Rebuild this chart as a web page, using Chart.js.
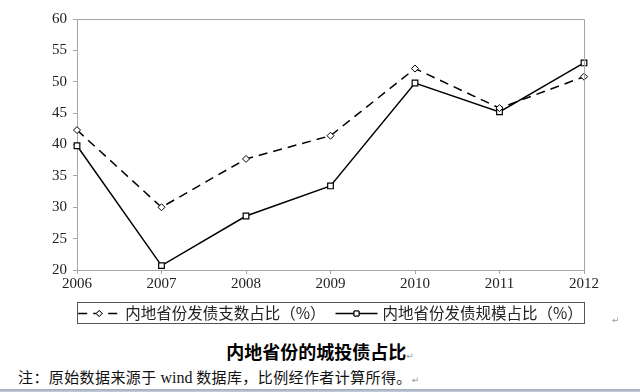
<!DOCTYPE html>
<html>
<head>
<meta charset="utf-8">
<script src="https://cdn.jsdelivr.net/npm/chart.js@4/dist/chart.umd.min.js"></script>
<style>
  html, body { margin: 0; padding: 0; background: #fff; }
  #wrap { position: relative; width: 640px; height: 392px; overflow: hidden; }
  #chart { position: absolute; left: 0; top: 0; }
  .caption {
    position: absolute; left: 0; width: 640px; text-align: center;
    font-family: "Noto Sans CJK SC", sans-serif; font-weight: bold; font-size: 18px; color: #000;
  }
  .note {
    position: absolute; left: 18px; letter-spacing: 0.4px;
    font-family: "Noto Sans CJK SC", sans-serif; font-size: 15px; color: #111;
  }
  .note .en { font-family: "Liberation Serif", serif; font-size: 16px; letter-spacing: 0; }
  .ret { color: #999; font-size: 9px; font-weight: normal; font-family: "DejaVu Sans", sans-serif; }
  #bar { position: absolute; left: 0; top: 389px; width: 640px; height: 3px; background: linear-gradient(#9aa8b8, #c8d0da); }
</style>
</head>
<body>
<div id="wrap">
  <canvas id="chart" width="640" height="335"></canvas>
  <span class="ret" style="position:absolute;left:612px;top:315px;">↵</span>
  <div class="caption" style="top:338px;">内地省份的城投债占比<span class="ret">↵</span></div>
  <div class="note" style="top:366px;">注：原始数据来源于 <span class="en">wind</span> 数据库，比例经作者计算所得。<span class="ret">↵</span></div>
  <div id="bar"></div>
</div>
<script>
// 年份
const years = ['2006', '2007', '2008', '2009', '2010', '2011', '2012'];

// 内地省份发债支数占比（%）
const countShare = [42.3, 30.0, 37.7, 41.4, 52.1, 45.8, 50.8];

// 内地省份发债规模占比（%）
const sizeShare = [39.8, 20.7, 28.6, 33.4, 49.8, 45.2, 53.0];

const seriesNames = ['内地省份发债支数占比（%）', '内地省份发债规模占比（%）'];

const axisGray = '#a6a6a6';
const serifFont = '"Liberation Serif", "Times New Roman", serif';
const cjkFont = '"Noto Sans CJK SC", sans-serif';

/**
 * 枠線付きの凡例を描く
 */
const boxLegend = {
  id: 'boxLegend',
  afterDraw(chart) {
    const ctx = chart.ctx;
    const area = chart.chartArea;

    // プロットエリアの上と右の枠
    ctx.save();
    ctx.strokeStyle = axisGray;
    ctx.lineWidth = 1;
    ctx.beginPath();
    ctx.moveTo(area.left, area.top + 0.5);
    ctx.lineTo(area.right + 0.5, area.top + 0.5);
    ctx.lineTo(area.right + 0.5, area.bottom);
    ctx.stroke();

    const top = area.bottom + 32;
    const height = 21;
    ctx.strokeStyle = '#555';
    ctx.strokeRect(area.left + 0.5, top + 0.5, area.right - area.left, height);

    ctx.font = `15.5px ${cjkFont}`;
    ctx.textBaseline = 'middle';

    const sampleWidth = 42;
    const gap = 5;
    const itemGap = 10;
    const widths = chart.data.datasets.map((ds) => sampleWidth + gap + ctx.measureText(ds.label).width);
    const total = widths.reduce((a, b) => a + b) + itemGap * (widths.length - 1);
    let x = (area.left + area.right) / 2 - total / 2;
    const cy = top + height / 2 + 1;

    chart.data.datasets.forEach((ds, i) => {
      ctx.save();
      ctx.strokeStyle = '#000';
      ctx.lineWidth = 1.5;
      ctx.setLineDash(ds.borderDash || []);
      ctx.beginPath();
      ctx.moveTo(x, cy);
      ctx.lineTo(x + sampleWidth, cy);
      ctx.stroke();
      ctx.restore();

      Chart.helpers.drawPoint(ctx, {
        pointStyle: ds.pointStyle,
        radius: ds.pointRadius - 0.5,
        rotation: 0,
        borderWidth: 1,
      }, x + sampleWidth / 2, cy);
      ctx.fillStyle = '#fff';
      ctx.strokeStyle = '#000';
      ctx.lineWidth = 1;
      ctx.fill();
      ctx.stroke();

      ctx.fillStyle = '#222';
      ctx.textAlign = 'left';
      ctx.fillText(ds.label, x + sampleWidth + gap, cy);
      x += widths[i] + itemGap;
    });
    ctx.restore();
  },
};

new Chart(document.getElementById('chart'), {
  type: 'line',
  data: {
    labels: years,
    datasets: [
      {
        label: seriesNames[0],
        data: countShare,
        borderColor: '#000',
        borderWidth: 1.5,
        borderDash: [9, 6],
        pointStyle: 'rectRot',
        pointRadius: 3.5,
        pointBackgroundColor: '#fff',
        pointBorderColor: '#000',
        pointBorderWidth: 1,
        tension: 0,
      },
      {
        label: seriesNames[1],
        data: sizeShare,
        borderColor: '#000',
        borderWidth: 1.5,
        pointStyle: 'rect',
        pointRadius: 4,
        pointBackgroundColor: '#fff',
        pointBorderColor: '#000',
        pointBorderWidth: 1.2,
        tension: 0,
      },
    ],
  },
  options: {
    responsive: false,
    animation: false,
    devicePixelRatio: 1,
    layout: {
      padding: { left: 0, right: 56, top: 19, bottom: 35 },
    },
    scales: {
      x: {
        offset: false,
        grid: { display: true, drawOnChartArea: false, color: axisGray, tickLength: 4 },
        border: { display: true, color: axisGray },
        ticks: { color: '#222', font: { family: serifFont, size: 15 }, padding: 1, maxRotation: 0 },
        afterFit: (scale) => { scale.height = 30; },
      },
      y: {
        min: 20,
        max: 60,
        grid: { display: true, drawOnChartArea: false, color: axisGray, tickLength: 4 },
        border: { display: true, color: axisGray },
        ticks: { stepSize: 5, color: '#222', font: { family: serifFont, size: 15 }, padding: 6 },
        afterFit: (scale) => { scale.width = 77; },
      },
    },
    plugins: {
      legend: { display: false },
      tooltip: { enabled: false },
    },
  },
  plugins: [boxLegend],
});
</script>
</body>
</html>
